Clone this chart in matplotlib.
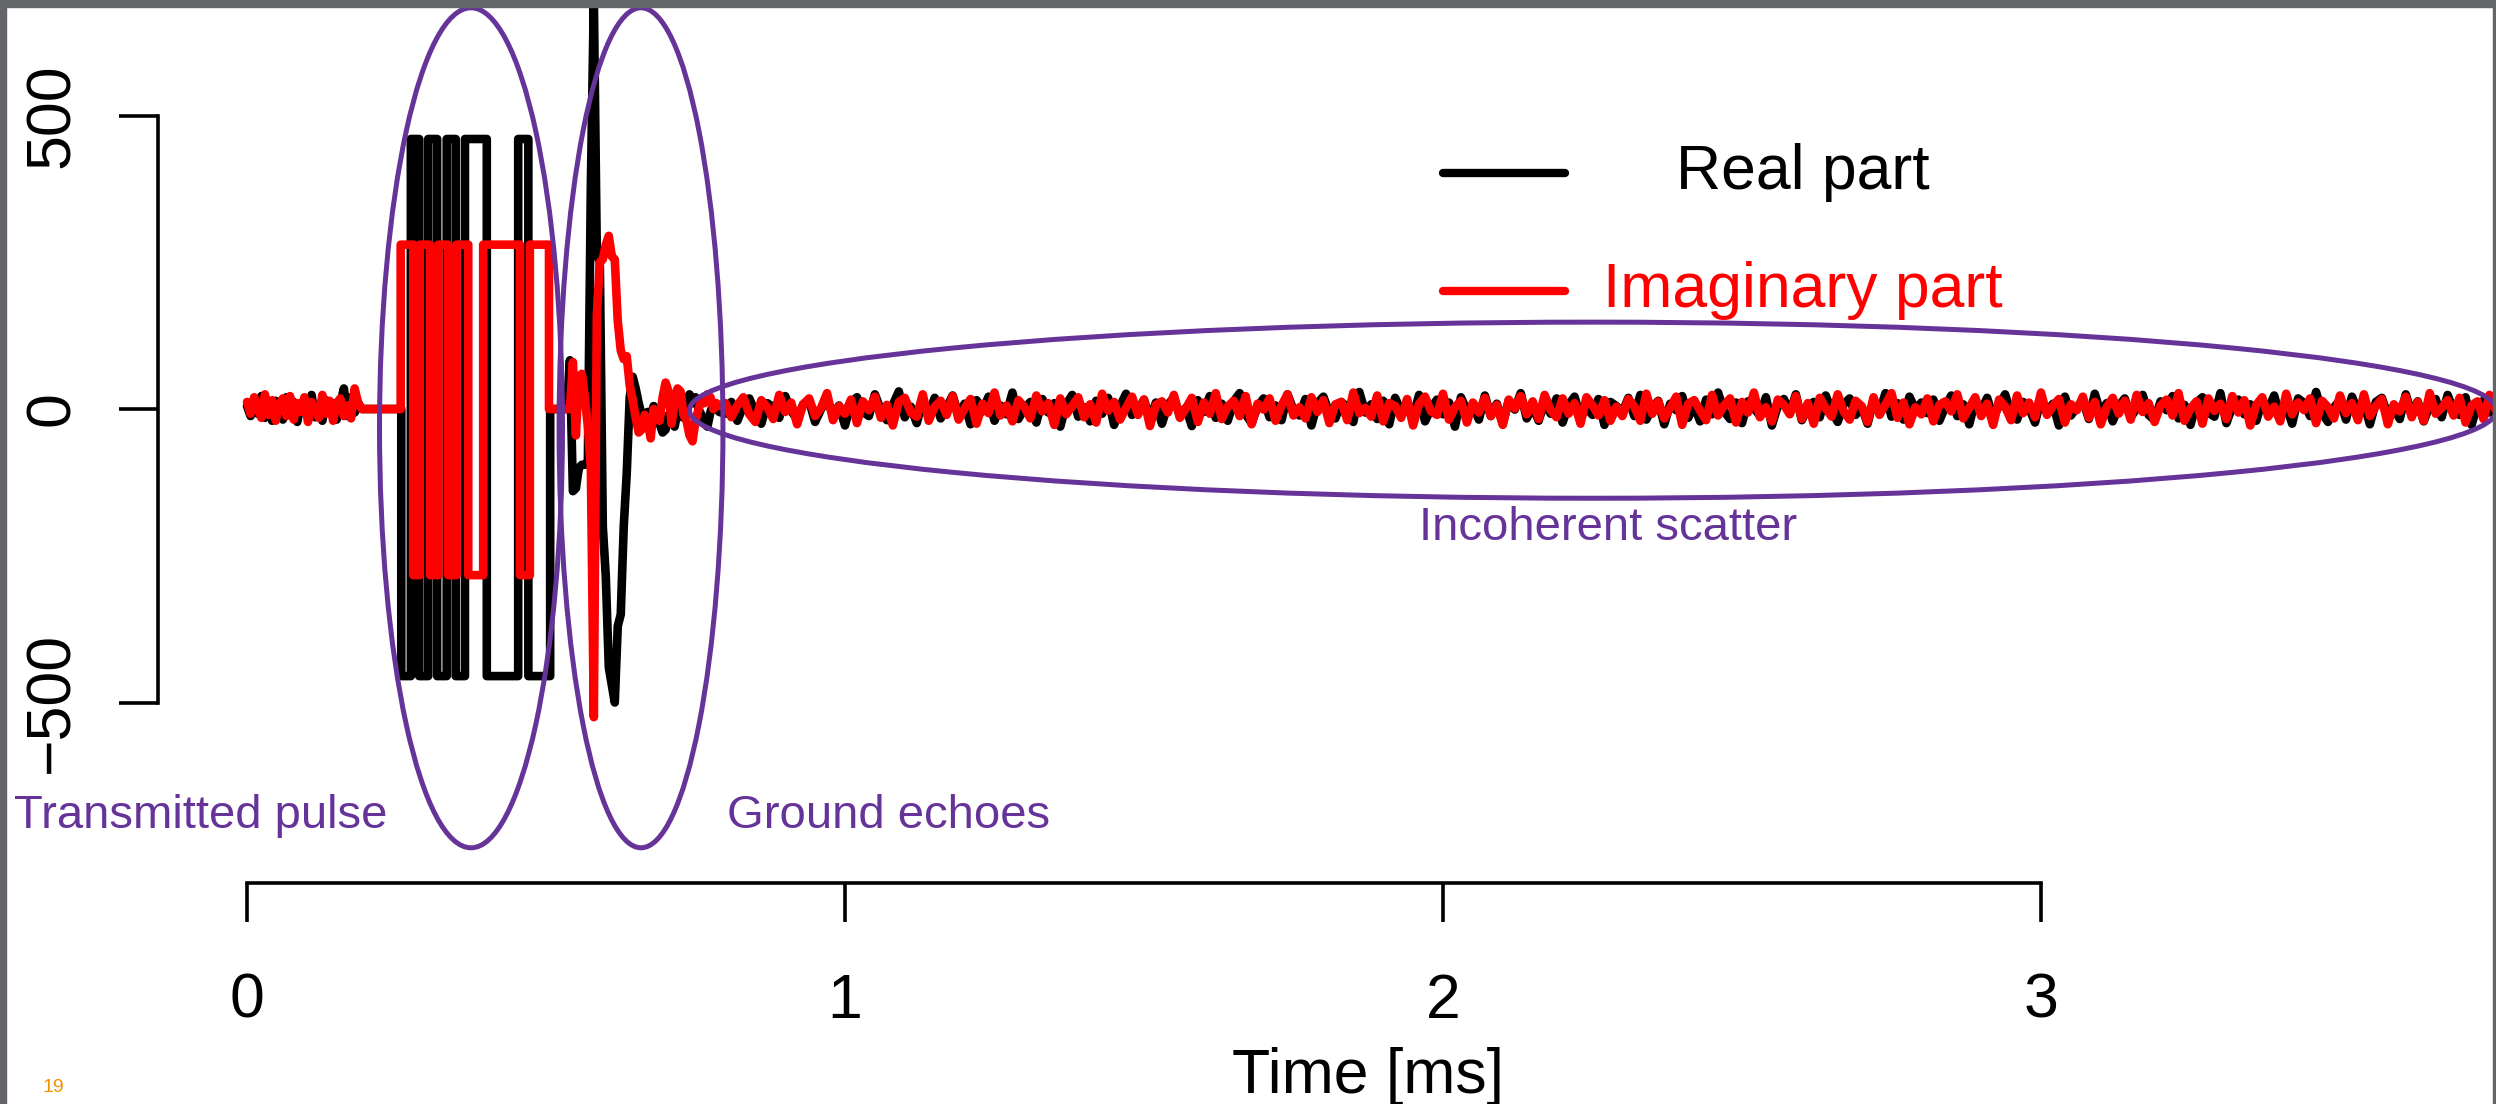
import numpy as np
import matplotlib
matplotlib.use("Agg")
import matplotlib.pyplot as plt
from matplotlib.patches import Ellipse, Rectangle

plt.rcParams['font.family'] = ['Liberation Sans', 'DejaVu Sans']

# noise before the pulse, sampled every 0.006 ms from 0 ms
pre_step = 0.006
pre_real = [5, -12, 18, -8, 22, -15, 10, -20, 14, 3, -18, 20, -6, 12, -22, 8,
            16, -10, 24, -14, 6, -20, 15, -4, 10, -18, 8, 35, -12, 20, -6, 10]
pre_imag = [12, -8, 20, 2, -15, 25, -10, 15, -20, 8, 18, -12, 22, -18, 10, -5,
            20, -22, 12, 0, -15, 24, -8, 14, -20, 10, 18, -12, 6, -16, 35, 10]

# transmitted pulse: switching times [ms] and the level after each switch
pulse_t_real = [0.258, 0.274, 0.288, 0.303, 0.318, 0.334, 0.349, 0.3645, 0.401, 0.4535, 0.4705, 0.507]
pulse_lv_real = [-455, 460, -455, 460, -455, 460, -455, 460, -455, 460, -455, 0]
pulse_t_imag = [0.257, 0.278, 0.289, 0.306, 0.320, 0.3365, 0.3505, 0.370, 0.395, 0.4565, 0.473, 0.505]
pulse_lv_imag = [280, -283, 280, -283, 280, -283, 280, -283, 280, -283, 280, 0]

# ground echoes, sampled every 0.005 ms from 0.51 ms
echo_start, echo_step = 0.51, 0.005
echo_real = [0, 0, 0, 0, 0, 0, 83, -140, -135, -100, -95, -95, -90, 380, 700, 265, 250,
             -200, -285, -440, -470, -500, -370, -350, -200, -110, 20, 55, 35, 10, -10,
             -20, -5, -15, 5, -10, -25, -40, -35, -10, -20, -30, -5, 0, -15, 15, 25, 10,
             20, 0, -10, -25, -30, -5, 10, 0, -5]
echo_imag = [0, 0, 0, 0, 0, 0, 0, 80, -45, 55, 60, 20, -30, -100, -525, 160, 250,
             255, 280, 295, 260, 255, 150, 100, 85, 90, 40, 15, -15, -40, -35,
             -10, -20, -50, 0, -15, -20, 20, 45, 30, -25, 10, 35, 30, -10, -20, -45, -55,
             -20, 0, 15, 10, 25, 20, 0, 10, 5]

# incoherent scatter, sampled every 0.01 ms from 0.80 ms
scat_start, scat_step = 0.80, 0.01
scat_real = [-8, 12, -20, 5, 18, -6, -25, 10, 3, -15, 22, -3, -18, 8, 14, -22, 0, 16, -10, 6,
             -28, 11, 20, -5, -12, 25, -2, -19, 7, 30, -14, 4, -24, 13, -7, 19, -16, 2, 23, -11,
             9, -26, 15, -4, 21, -20, 6, -9, 28, -17, 1, 12, -23, 17, -6, 10, -30, 8, 24, -13,
             3, -21, 14, -8, 19, -27, 5, 26, -10, -3, 16, -18, 11, -25, 7, 20, -12, 2, -29, 15,
             -5, 22, -15, 9, -20, 13, 27, -9, -24, 4, 18, -14, 6, -19, 25, -2, -11, 17, -28, 10,
             21, -7, -16, 12, 3, -22, 29, -6, 8, -17, 14, -26, 19, -4, 7, -13, 24, -21, 1, 16,
             -9, 11, -30, 20, -3, 6, -18, 23, -12, 9, -25, 15, -1, 27, -16, 4, -20, 13, -8, 18,
             -23, 7, 21, -14, 2, -10, 17, -27, 12, 5, -6, 19, -12, 24, -18, 3, 14, -26, 9, -2,
             22, -15, 7, -21, 16, -9, 28, -4, -17, 11, -24, 13, 1, -11, 20, -28, 6, 17, -7, 25,
             -19, 2, 12, -14, 23, -3, -22, 8, 18, -10, 4, -25, 15, -5, 27, -13, 10, -18, 21, -1,
             11, -7, 16, -20, 4, 23, -12, 8, -26, 14, -3, 19, -15, 6, 25, -9, -18, 12, 2, -23,
             17, -5, 9, -28, 21, -11, 3, 15, -17, 26, -8, 10, -21, 5, 18, -14, 1, 24, -10, -19,
             13, -2, 22, -16, 7, -27, 11, 20, -6, -13, 27, -24, 4, 16, -9, 8, -20, 14, -1, 23,
             -15, 6, -25, 18, 10, -12, 29, -7, -22, 3, 15, -18, 21, -4, 9, -26, 12, 19, -11, 2,
             -17, 25, -8, 13, -21, 6, 17, -14, 24, -3, -10, 20, -27, 8, 14, -6, 22, -16, 1, 11]
scat_imag = [10, -14, 6, 20, -9, -22, 15, 3, -17, 24, -5, 11, -26, 8, 18, -12, 2, 27, -19, 5,
             -8, 16, -24, 13, -2, 21, -15, 7, -28, 12, 19, -6, -13, 25, -20, 4, 14, -10, 22, -18,
             1, 17, -25, 9, -7, 28, -11, 6, -21, 15, 3, -16, 23, -4, 10, -27, 18, -9, 5, 20,
             -14, 8, -23, 26, -3, 12, -18, 2, 21, -10, 16, -29, 7, 13, -6, 24, -15, 1, 19, -22,
             11, -8, 27, -17, 4, 14, -12, 22, -26, 9, -1, 18, -20, 6, 25, -11, 3, -16, 20, -5,
             15, -24, 8, 12, -19, 28, -7, 2, -13, 23, -21, 10, 5, -15, 17, -28, 9, 21, -4, -10,
             26, -18, 3, 14, -23, 11, -6, 19, -12, 7, -27, 16, 1, 22, -9, 13, -17, 24, -2, -14,
             18, -8, 10, -25, 20, 6, -11, 15, -20, 4, -12, 17, 4, -20, 26, -8, 13, -16, 2, 21,
             -27, 9, 15, -3, -19, 24, -11, 6, 18, -23, 12, -6, 28, -14, 3, -21, 16, 7, -9, 22,
             -17, 10, -25, 19, 1, -13, 25, -4, -18, 14, 5, -22, 20, -10, 8, 27, -15, 11, -26, 3,
             -9, 18, -21, 7, 13, -4, 25, -16, 2, 20, -12, 9, -27, 16, 4, -19, 23, -7, 11, -14,
             28, -10, 5, 17, -23, 8, -2, 21, -15, 12, -26, 3, 19, -8, 14, -18, 24, -5, 10, -22,
             6, 16, -11, 27, -20, 1, 13, -25, 18, -3, 9, -17, 22, -6, 15, -28, 7, 20, -13, 4,
             -21, 26, -9, 11, -2, 18, -24, 14, 3, -16, 23, -7, 10, -19, 25, -12, 5, 17, -26, 8,
             -4, 21, -14, 12, -20, 27, -8, 2, 15, -11, 19, -23, 6, 13, -17, 24, -1, -10, 16, -5]

PURPLE = '#663399'


def build_series(pre, pulse_t, pulse_lv, echo, scat):
    """Join the pieces of one trace into a single time / value list."""
    t = list(np.arange(len(pre)) * pre_step)
    y = list(pre)
    # flat zero between the noise and the pulse
    t.append(len(pre) * pre_step)
    y.append(0)
    level = 0
    for ts, lv in zip(pulse_t, pulse_lv):
        t += [ts, ts]
        y += [level, lv]
        level = lv
    t += list(echo_start + np.arange(len(echo)) * echo_step)
    y += list(echo)
    t += list(scat_start + np.arange(len(scat)) * scat_step)
    y += list(scat)
    return t, y


t_real, y_real = build_series(pre_real, pulse_t_real, pulse_lv_real, echo_real, scat_real)
t_imag, y_imag = build_series(pre_imag, pulse_t_imag, pulse_lv_imag, echo_imag, scat_imag)

fig = plt.figure(figsize=(24.96, 11.04), dpi=100)
ax = fig.add_axes([0, 0, 1, 1])
ax.set_xlim(-0.41304, 3.7609)
ax.set_ylim(-1184, 696.8)

line_kw = dict(lw=6.2, solid_joinstyle='round', solid_capstyle='round')
ax.plot(t_real, y_real, color='black', zorder=2, **line_kw)
ax.plot(t_imag, y_imag, color='red', zorder=2.1, **line_kw)

# R style detached axes
for side in ['top', 'right']:
    ax.spines[side].set_visible(False)
ax.spines['left'].set_position(('data', -0.1488))
ax.spines['left'].set_bounds(-500, 500)
ax.spines['bottom'].set_position(('data', -807.5))
ax.spines['bottom'].set_bounds(0, 3)
for side in ['left', 'bottom']:
    ax.spines[side].set_linewidth(2.6)

ax.set_xticks([0, 1, 2, 3])
ax.set_xticklabels(['0', '1', '2', '3'])
ax.set_yticks([-500, 0, 500])
ax.set_yticklabels(['\u2212500', '0', '500'], rotation=90, va='center')
ax.tick_params(axis='both', length=28, width=2.6, labelsize=45)
ax.tick_params(axis='x', pad=36)
ax.tick_params(axis='y', pad=27)

ax.text(1.8746, -1165, 'Time [ms]', ha='center', va='baseline', fontsize=45)

# legend drawn by hand (text is centred in the original)
leg_kw = dict(lw=6, solid_capstyle='round')
ax.plot([2.0, 2.204], [402, 402], color='black', **leg_kw)
ax.plot([2.0, 2.204], [201, 201], color='red', **leg_kw)
ax.text(2.602, 375, 'Real part', ha='center', va='baseline', fontsize=45, color='black')
ax.text(2.602, 174, 'Imaginary part', ha='center', va='baseline', fontsize=45, color='red')

# annotations
ell_kw = dict(fill=False, edgecolor=PURPLE, lw=3.6, zorder=3)
ax.add_patch(Ellipse((0.3746, -32), 0.306, 1431, **ell_kw))
ax.add_patch(Ellipse((0.6589, -32), 0.274, 1431, **ell_kw))
ax.add_patch(Ellipse((2.2508, -2), 3.0217, 300, **ell_kw))
ax.text(-0.3896, -714, 'Transmitted pulse', color=PURPLE, fontsize=34, va='baseline')
ax.text(0.8027, -714, 'Ground echoes', color=PURPLE, fontsize=34, va='baseline')
ax.text(2.276, -223, 'Incoherent scatter', color=PURPLE, fontsize=34, va='baseline', ha='center')

# slide number and grey frame of the screenshot
fig.text(42 / 2496, 1 - 1092 / 1104, '19', fontsize=14, color='#F39200', va='baseline')
gray = '#646568'
W, H = 2496, 1104
fig.patches.append(Rectangle((0, 1 - 7 / H), 1, 7 / H, transform=fig.transFigure,
                             color=gray, zorder=10))
fig.patches.append(Rectangle((0, 0), 6 / W, 1, transform=fig.transFigure,
                             color=gray, zorder=10))
fig.patches.append(Rectangle((1 - 3.5 / W, 0), 3.5 / W, 1, transform=fig.transFigure,
                             color=gray, zorder=10))

fig.savefig('out.png', dpi=100)
